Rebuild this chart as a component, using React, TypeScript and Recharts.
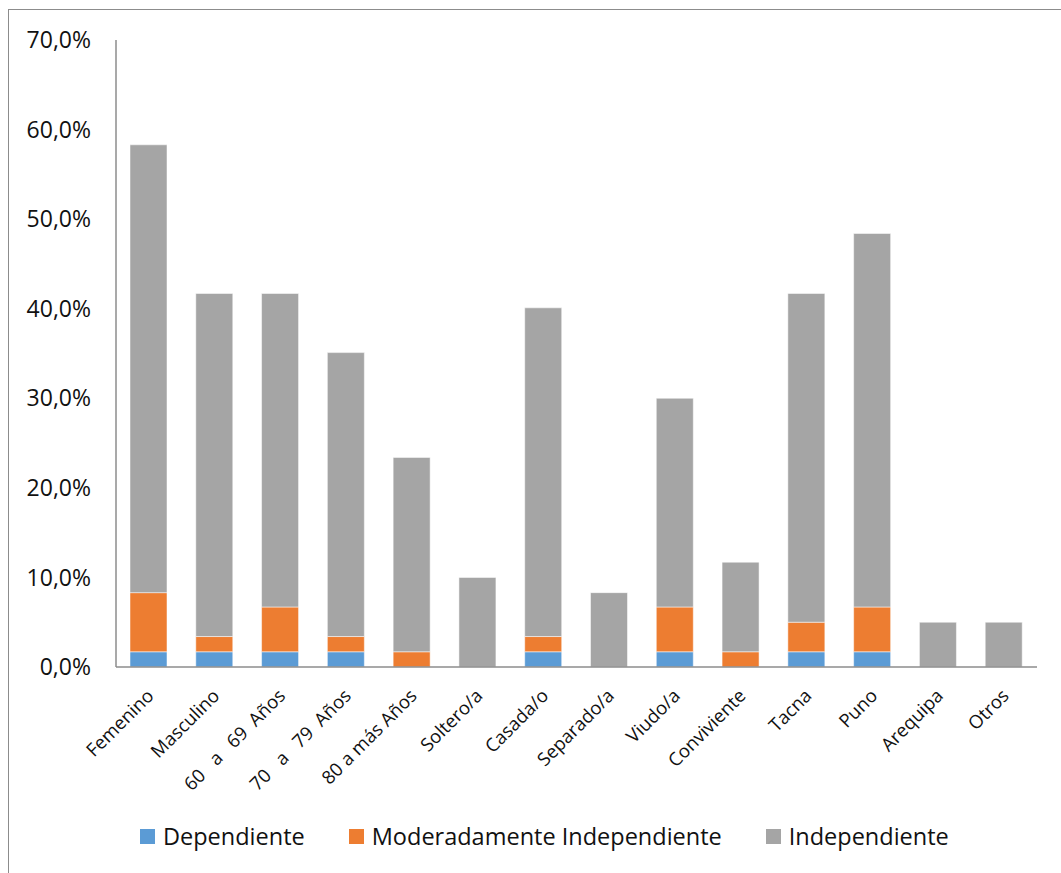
import React from "react";
import { BarChart, Bar, XAxis, YAxis } from "recharts";

const categories = [
  "Femenino", "Masculino", "60   a   69  Años", "70   a   79  Años", "80 a más Años",
  "Soltero/a", "Casada/o", "Separado/a", "Viudo/a", "Conviviente",
  "Tacna", "Puno", "Arequipa", "Otros",
];
const dependiente = [1.7, 1.7, 1.7, 1.7, 0, 0, 1.7, 0, 1.7, 0, 1.7, 1.7, 0, 0];
const moderado = [6.6, 1.7, 5.0, 1.7, 1.7, 0, 1.7, 0, 5.0, 1.7, 3.3, 5.0, 0, 0];
const independiente = [50.0, 38.3, 35.0, 31.7, 21.7, 10.0, 36.7, 8.3, 23.3, 10.0, 36.7, 41.7, 5.0, 5.0];
const yTicks = [0, 10, 20, 30, 40, 50, 60, 70];

const series = [
  { key: "dep", name: "Dependiente", color: "#5B9BD5" },
  { key: "mod", name: "Moderadamente Independiente", color: "#ED7D31" },
  { key: "ind", name: "Independiente", color: "#A5A5A5" },
];

const data = categories.map((c, i) => ({
  name: c,
  dep: dependiente[i],
  mod: moderado[i],
  ind: independiente[i],
}));

const FONT = "'Open Sans', 'Noto Sans', sans-serif";

const RotatedTick = (props: any) => {
  const { x, y, payload } = props;
  return (
    <g transform={`translate(${x + 6},${y + 30})`}>
      <text
        x={0}
        y={0}
        textAnchor="end"
        transform="rotate(-45)"
        fontSize={18.5}
        fontFamily={FONT}
        fill="#111"
        style={{ whiteSpace: "pre" }}
      >
        {payload.value}
      </text>
    </g>
  );
};

export default function App() {
  return (
    <div style={{ position: "absolute", left: 0, top: 0, width: 1061, height: 873, background: "#fff", fontFamily: FONT }}>
      <div
        style={{
          position: "absolute",
          left: 8,
          top: 9,
          width: 1100,
          height: 900,
          borderLeft: "1px solid #8c8c8c",
          borderTop: "1px solid #8c8c8c",
        }}
      />
      <div style={{ position: "absolute", left: 0, top: 0 }}>
        <BarChart
          width={1061}
          height={873}
          data={data}
          margin={{ top: 40, right: 24, left: 0, bottom: 176 }}
          barCategoryGap="0%"
        >
          <XAxis
            dataKey="name"
            interval={0}
            height={30}
            tickLine={false}
            tickSize={0}
            tickMargin={0}
            axisLine={{ stroke: "#8c8c8c", strokeWidth: 1.5 }}
            tick={<RotatedTick />}
          />
          <YAxis
            width={116}
            domain={[0, 70]}
            ticks={yTicks}
            interval={0}
            tickLine={false}
            tickSize={0}
            tickMargin={25}
            axisLine={{ stroke: "#8c8c8c", strokeWidth: 1.5 }}
            tick={{ fontSize: 23, fontFamily: FONT, fill: "#111" }}
            tickFormatter={(v: number) => v.toFixed(1).replace(".", ",") + "%"}
          />
          {series.map((s) => (
            <Bar
              key={s.key}
              dataKey={s.key}
              name={s.name}
              stackId="a"
              fill={s.color}
              barSize={37}
              stroke="#ffffff"
              strokeOpacity={0.5}
              strokeWidth={1}
              isAnimationActive={false}
            />
          ))}
        </BarChart>
      </div>
      <div
        style={{
          position: "absolute",
          left: 140,
          top: 821,
          height: 30,
          display: "flex",
          alignItems: "center",
          fontSize: 23.5,
          color: "#111",
          whiteSpace: "nowrap",
        }}
      >
        {series.map((s, i) => (
          <div key={s.key} style={{ display: "flex", alignItems: "center", marginRight: i < series.length - 1 ? 44 : 0 }}>
            <span style={{ display: "inline-block", width: 15, height: 15, background: s.color, marginRight: 8 }} />
            <span>{s.name}</span>
          </div>
        ))}
      </div>
    </div>
  );
}
